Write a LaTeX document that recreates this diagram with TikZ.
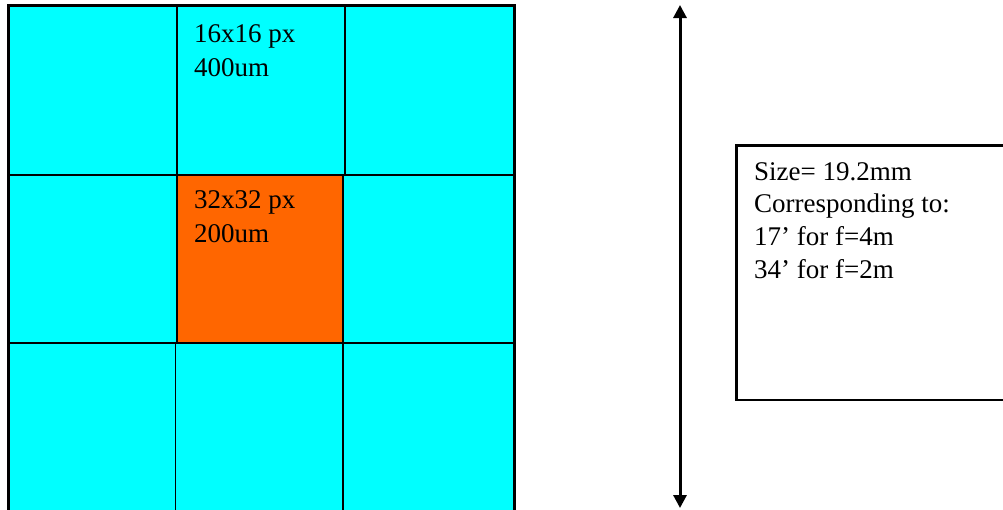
\documentclass[tikz,border=0pt]{standalone}
\usepackage{fontspec}
\setmainfont{Liberation Serif}
\usetikzlibrary{arrows.meta}

\definecolor{pixcyan}{HTML}{00FFFF}
\definecolor{pixorange}{HTML}{FF6600}

\tikzset{
  gridline/.style={line width=2pt},
  border/.style={line width=3pt},
  lbl/.style={anchor=north west, align=left, inner sep=0pt,
    font=\fontsize{27}{34.6}\selectfont},
  boxlbl/.style={lbl, font=\fontsize{27}{32.7}\selectfont},
}

\begin{document}
\begin{tikzpicture}[x=1pt,y=-1pt]
\useasboundingbox (0,0) rectangle (1003,509);
\clip (0,0) rectangle (1003,509);

% pixel grid
\fill[pixcyan] (8,5) rectangle (514,520);
\fill[pixorange] (177,174.5) rectangle (343,342.5);
\draw[gridline] (8,174.5) -- (514,174.5) (8,342.5) -- (514,342.5);
\draw[gridline] (177,5) -- (177,342.5) (345,5) -- (345,174.5)
                (343,174.5) -- (343,520);
\draw[line width=1.2pt] (175.5,342.5) -- (175.5,520);
\draw[border] (8,520) -- (8,5) -- (514,5) -- (514,520);

\node[lbl] (big) at (194,24) {16x16 px\\400um};
\node[lbl] (small) at (194,190) {32x32 px\\200um};

% size arrow
\coordinate (up) at (680,5);
\coordinate (down) at (680,508);
\draw[line width=3pt, {Triangle[length=13pt,width=13pt]}-{Triangle[length=13pt,width=13pt]}]
  (up) -- (down);

% info box
\draw[line width=2.5pt] (1020,145.5) -- (736.5,145.5) -- (736.5,400) -- (1020,400);
\node[boxlbl] (info) at (754,162)
  {Size= 19.2mm\\Corresponding to:\\17’ for f=4m\\34’ for f=2m};
\end{tikzpicture}
\end{document}
